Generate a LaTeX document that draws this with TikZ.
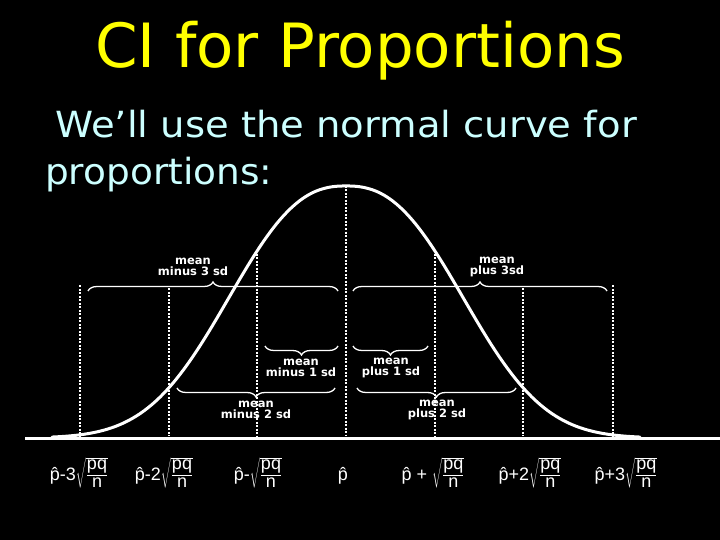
\documentclass[tikz,border=0pt]{standalone}
\usepackage{fontspec}
\setmainfont{Liberation Sans}
\newfontfamily\titlefont{DejaVu Sans}
\newfontfamily\labfont{DejaVu Sans}
\usetikzlibrary{decorations.pathreplacing}
\definecolor{titleyellow}{RGB}{255,255,0}
\definecolor{subcyan}{RGB}{204,255,255}
\newcommand{\phat}{\ooalign{p\cr\hfil ˆ\hfil\cr}}
\newcommand{\rootpqn}{$\sqrt{\frac{\mbox{pq\rule[-0.32em]{0pt}{0.5em}}}{\mbox{\rule{0pt}{0.64em}n}}}$}
\begin{document}
\begin{tikzpicture}[x=1pt,y=-1pt,
  dotline/.style={white, line width=2pt, dash pattern=on 2pt off 1.5pt},
  bigbrace/.style={white, line width=1.3pt, decorate, decoration={brace, amplitude=9pt}},
  smallbrace/.style={white, line width=1.3pt, decorate, decoration={brace, mirror, amplitude=9pt}},
  sdlab/.style={white, font=\labfont\bfseries\fontsize{11.5}{11}\selectfont, align=center, inner sep=0pt},
  formula/.style={white, font=\fontsize{18}{18}\selectfont, inner sep=0pt, anchor=base},
  titletext/.style={titleyellow, font=\titlefont\fontsize{61}{61}\selectfont, inner sep=0pt, anchor=base},
  subtext/.style={subcyan, font=\titlefont\fontsize{36}{36}\selectfont, inner sep=0pt, anchor=base west}]
\fill[black] (0,0) rectangle (720,540);
\useasboundingbox (0,0) rectangle (720,540);

\node[titletext] (title) at (360,68) {CI for Proportions};
\node[subtext] (sub1) at (55,138) {\scalebox{1.07}[1]{We’ll use the normal curve for}};
\node[subtext] (sub2) at (45,185) {\scalebox{1.04}[1]{proportions:}};

% dotted sd lines
\draw[dotline] (346,186) -- (346,436);
\draw[dotline] (257,250) -- (257,436);
\draw[dotline] (435,250) -- (435,436);
\draw[dotline] (169,288) -- (169,436);
\draw[dotline] (523,288) -- (523,436);
\draw[dotline] (80,285) -- (80,436);
\draw[dotline] (613,285) -- (613,436);

% normal curve
\draw[white, line width=3pt, line cap=round, line join=round]
  plot[domain=-294:294, samples=148] ({346+\x}, {438-252*exp(-((abs(\x)+0.01)/145.7)^2.45)});

% baseline
\draw[white, line width=3pt] (25,438) -- (720,438);

% braces
\draw[bigbrace] (88,291) -- (338,291);
\draw[bigbrace] (353,291) -- (607,291);
\draw[smallbrace] (265,346) -- (338,346);
\draw[smallbrace] (353,346) -- (428,346);
\draw[smallbrace] (177,388) -- (335,388);
\draw[smallbrace] (357,388) -- (516,388);

% sd labels
\node[sdlab] (m3) at (193,267) {mean\\minus 3 sd};
\node[sdlab] (p3) at (497,267) {mean\\plus 3sd};
\node[sdlab] (m1) at (301,368) {mean\\minus 1 sd};
\node[sdlab] (p1) at (391,368) {mean\\plus 1 sd};
\node[sdlab] (m2) at (256,410) {mean\\minus 2 sd};
\node[sdlab] (p2) at (437,410) {mean\\plus 2 sd};

% formulas
\node[formula] (fm3) at (79,480) {\phat-3\rootpqn};
\node[formula] (fm2) at (164,480) {\phat-2\rootpqn};
\node[formula] (fm1) at (258,480) {\phat-\rootpqn};
\node[formula] (f0) at (343,480) {\phat};
\node[formula] (fp1) at (433,480) {\phat{} + \rootpqn};
\node[formula] (fp2) at (530,480) {\phat+2\rootpqn};
\node[formula] (fp3) at (626,480) {\phat+3\rootpqn};
\end{tikzpicture}
\end{document}
